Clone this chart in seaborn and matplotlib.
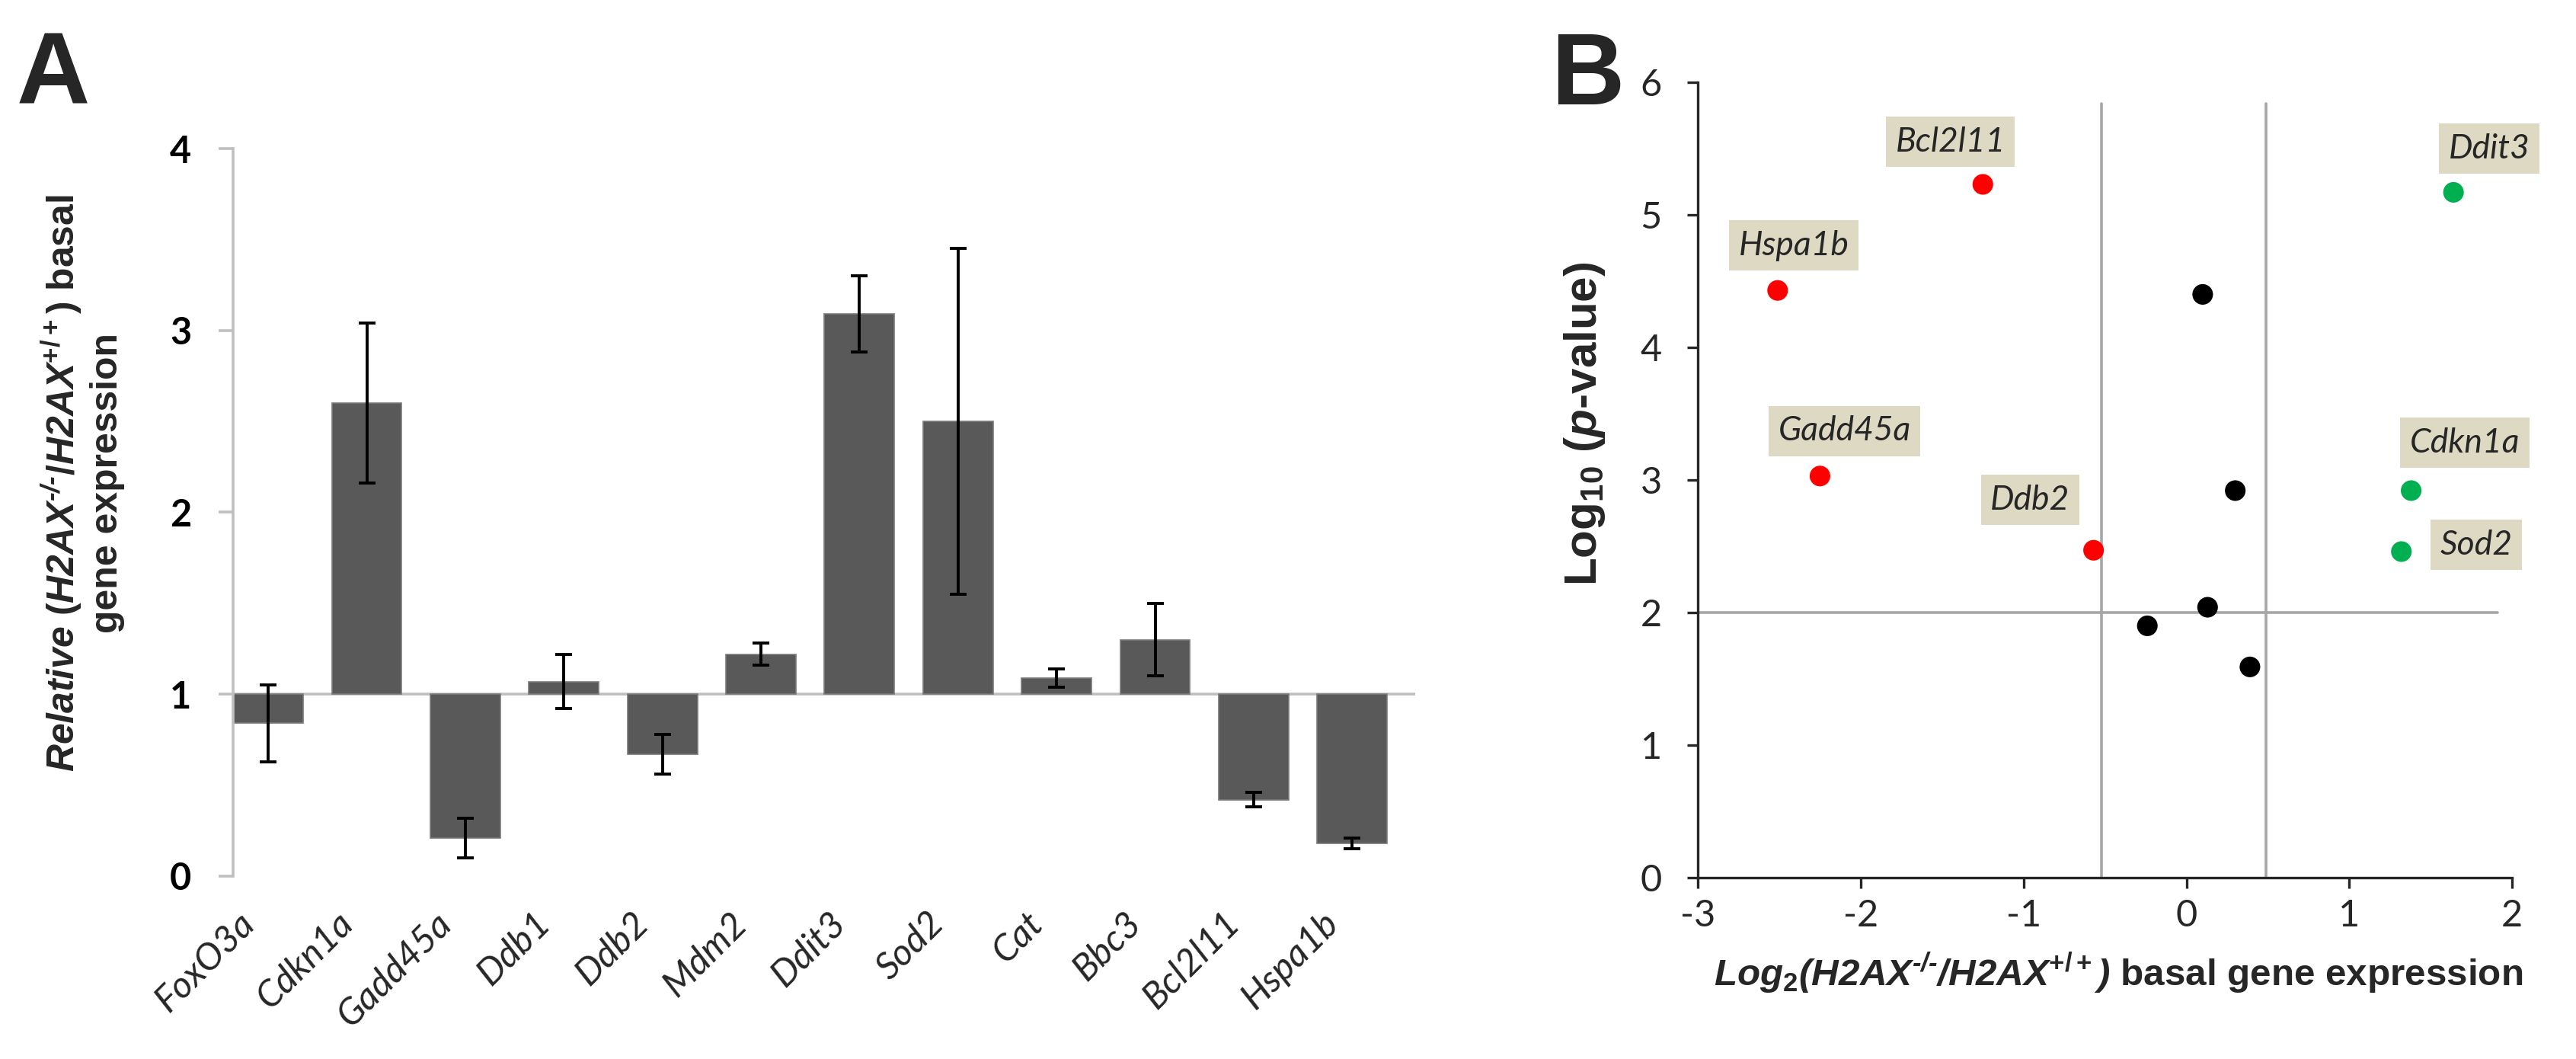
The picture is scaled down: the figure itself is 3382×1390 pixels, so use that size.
import matplotlib
matplotlib.use("Agg")
import numpy as np
import pandas as pd
import matplotlib.pyplot as plt
import seaborn as sns
from matplotlib import font_manager
from matplotlib.transforms import ScaledTranslation

# --- panel A: relative basal expression, bars hang from 1 ---
genes = ["FoxO3a", "Cdkn1a", "Gadd45a", "Ddb1", "Ddb2", "Mdm2",
         "Ddit3", "Sod2", "Cat", "Bbc3", "Bcl2l11", "Hspa1b"]
rel_expr = [0.84, 2.60, 0.21, 1.07, 0.67, 1.22, 3.09, 2.50, 1.09, 1.30, 0.42, 0.18]
rel_err = [0.21, 0.44, 0.11, 0.15, 0.11, 0.06, 0.21, 0.95, 0.05, 0.20, 0.04, 0.03]

# --- panel B: volcano plot ---
volc_genes = ["Hspa1b", "Bcl2l11", "Gadd45a", "Ddb2", "Ddb1", "Mdm2",
              "Cat", "FoxO3a", "Bbc3", "Ddit3", "Cdkn1a", "Sod2"]
log2_fc = [-2.51, -1.25, -2.25, -0.57, 0.10, 0.30, 0.13, -0.24, 0.39, 1.64, 1.38, 1.32]
log10_p = [4.43, 5.23, 3.03, 2.47, 4.40, 2.92, 2.04, 1.90, 1.59, 5.17, 2.92, 2.46]
regulation = ["down", "down", "down", "down", "ns", "ns",
              "ns", "ns", "ns", "up", "up", "up"]
fc_cut = [-0.52, 0.49]
p_cut = 2.0

# where the tan name boxes sit relative to their dot (data units)
label_offsets = {
    "Hspa1b": (0.10, 0.34), "Bcl2l11": (-0.20, 0.32), "Gadd45a": (0.15, 0.34),
    "Ddb2": (-0.39, 0.38), "Ddit3": (0.22, 0.33), "Cdkn1a": (0.33, 0.36),
    "Sod2": (0.46, 0.05),
}

sns.set_style("ticks")
installed = {f.name for f in font_manager.fontManager.ttflist}
SANS = "Liberation Sans"
CAL = "Lato" if "Lato" in installed else "DejaVu Sans"
plt.rcParams["font.family"] = [SANS, "DejaVu Sans"]
plt.rcParams["axes.unicode_minus"] = False
plt.rcParams["mathtext.fontset"] = "custom"
plt.rcParams["mathtext.rm"] = SANS + ":bold"
plt.rcParams["mathtext.it"] = SANS + ":italic:bold"
plt.rcParams["mathtext.bf"] = SANS + ":bold"
plt.rcParams["mathtext.bfit"] = SANS + ":italic:bold"

W, H = 3382, 1390
fig = plt.figure(figsize=(W / 200, H / 200), dpi=200)

# ---------------- panel A ----------------
axA = fig.add_axes([0.0905, 0.1727, 0.4589, 0.6870])
df_a = pd.DataFrame({"gene": genes, "rel": rel_expr, "err": rel_err})
df_a["shift"] = df_a["rel"] - 1.0
sns.barplot(data=df_a, x="gene", y="shift", bottom=1.0, color="#595959",
            saturation=1, width=0.71, errorbar=None, ax=axA,
            edgecolor="#7a7a7a", linewidth=0.6, zorder=2)
axA.errorbar(np.arange(len(genes)), df_a["rel"], yerr=df_a["err"], fmt="none",
             ecolor="black", elinewidth=1.4, capsize=4, capthick=1.4, zorder=3)
axA.axhline(1.0, color="#BFBFBF", lw=1.3, zorder=1)
axA.set_xlim(-0.356, 11.64)
axA.set_ylim(0, 4)
axA.set_yticks([0, 1, 2, 3, 4])
axA.set_xlabel("")
axA.set_ylabel("")
for side in ["top", "right", "bottom"]:
    axA.spines[side].set_visible(False)
axA.spines["left"].set_color("#BFBFBF")
axA.spines["left"].set_linewidth(1.3)
axA.tick_params(axis="y", colors="#BFBFBF", length=6.8, width=1.3, pad=13,
                labelcolor="black")
axA.tick_params(axis="x", length=0, pad=10)
for lab in axA.get_yticklabels():
    lab.set_fontfamily(CAL)
    lab.set_fontweight("bold")
    lab.set_fontsize(17.5)
axA.set_xticks(range(len(genes)))
axA.set_xticklabels(genes, rotation=45, ha="right", va="center",
                    rotation_mode="anchor", fontfamily=CAL, fontstyle="italic",
                    fontsize=17.5)
# nudge the gene names left and down, as in the original layout
move = ScaledTranslation(-25 / 200, -27 / 200, fig.dpi_scale_trans)
for lab in axA.get_xticklabels():
    lab.set_transform(lab.get_transform() + move)

ylab_a = fig.text(108 / W, 1 - 634 / H,
                  r"$\mathbfit{Relative}$ ($\mathbfit{H2AX}^{\mathbfit{‐/‐}}$/$\mathbfit{H2AX}^{\mathbf{+/+}}$) basal"
                  "\ngene expression",
                  rotation=90, ha="center", va="center", multialignment="center",
                  fontfamily=SANS, fontweight="bold", fontsize=18)

# ---------------- panel B ----------------
axB = fig.add_axes([0.6591, 0.1712, 0.3161, 0.7511])
df_b = pd.DataFrame({"gene": volc_genes, "log2fc": log2_fc,
                     "log10p": log10_p, "regulation": regulation})
axB.axvline(fc_cut[0], ymax=5.84 / 6, color="#A6A6A6", lw=1.3, zorder=1)
axB.axvline(fc_cut[1], ymax=5.84 / 6, color="#A6A6A6", lw=1.3, zorder=1)
axB.axhline(p_cut, xmax=(1.91 + 3) / 5, color="#A6A6A6", lw=1.3, zorder=1)
sns.scatterplot(data=df_b, x="log2fc", y="log10p", hue="regulation",
                palette={"down": "#FF0000", "ns": "#000000", "up": "#00B050"},
                s=95, edgecolor="none", legend=False, ax=axB, zorder=3)
for _, row in df_b.iterrows():
    if row["gene"] in label_offsets:
        dx, dy = label_offsets[row["gene"]]
        axB.annotate(row["gene"], xy=(row["log2fc"], row["log10p"]),
                     xytext=(row["log2fc"] + dx, row["log10p"] + dy),
                     ha="center", va="center", fontfamily=CAL,
                     fontstyle="italic", fontsize=16, zorder=4,
                     bbox=dict(boxstyle="square,pad=0.28", fc="#DDD9C3", ec="none"))
axB.set_xlim(-3, 2)
axB.set_ylim(0, 6)
axB.set_xticks([-3, -2, -1, 0, 1, 2])
axB.set_yticks([0, 1, 2, 3, 4, 5, 6])
axB.set_xlabel("")
axB.set_ylabel("")
sns.despine(ax=axB)
for side in ["left", "bottom"]:
    axB.spines[side].set_linewidth(1.2)
axB.tick_params(axis="y", length=5, width=1.2, pad=12)
axB.tick_params(axis="x", length=5, width=1.2, pad=5)
for lab in axB.get_xticklabels() + axB.get_yticklabels():
    lab.set_fontfamily(CAL)
    lab.set_fontsize(17.5)

ylab_b = fig.text(2081 / W, 1 - 556 / H, r"Log$_{\mathbf{10}}$ ($\mathbfit{p}$-value)",
                  rotation=90, ha="center", va="center", fontfamily=SANS,
                  fontweight="bold", fontsize=22)
xlab_b = fig.text(2781 / W, 1 - 1277 / H,
                  r"$\mathbfit{Log}_{\mathbf{2}}\mathbfit{(H2AX}^{\mathbfit{‐/‐}}\mathbfit{/H2AX}^{\mathbf{+/+}}\mathbfit{)}$ basal gene expression",
                  ha="center", va="center", fontfamily=SANS, fontweight="bold",
                  fontsize=17.5)

# panel letters
fig.text(22 / W, 1 - 137 / H, "A", fontsize=48, fontweight="bold",
         ha="left", va="baseline")
fig.text(2036 / W, 1 - 137 / H, "B", fontsize=48, fontweight="bold",
         ha="left", va="baseline")

# size the long axis titles so their lengths match the original (pixels)
fig.canvas.draw()
renderer = fig.canvas.get_renderer()


def fit_size(txt, target, dim):
    for _ in range(3):
        bb = txt.get_window_extent(renderer)
        cur = bb.width if dim == "w" else bb.height
        txt.set_fontsize(txt.get_fontsize() * target / cur)


fit_size(ylab_a, 758, "h")
fit_size(ylab_b, 425, "h")
fit_size(xlab_b, 1063, "w")

fig.savefig("out.png", dpi=200)
